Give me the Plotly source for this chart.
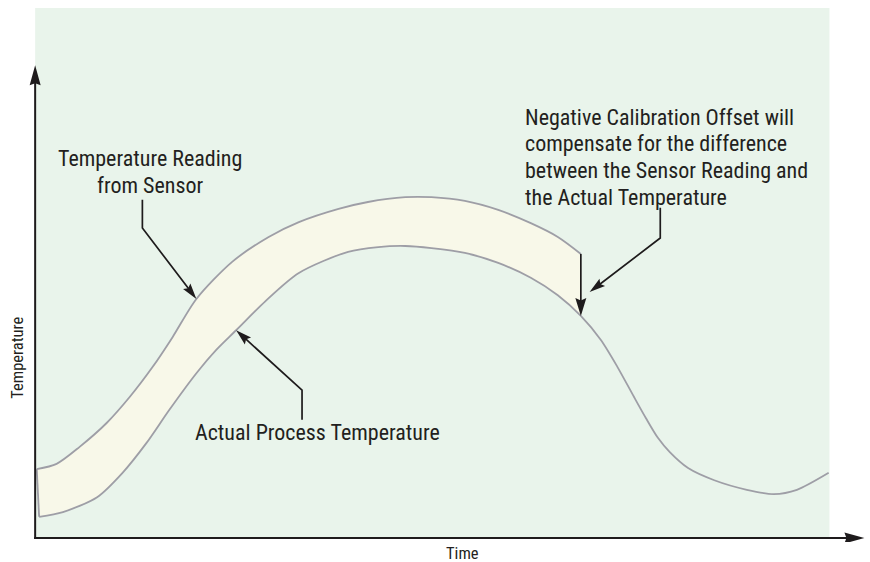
import math
import numpy as np
import plotly.graph_objects as go

# Temperature reported by the sensor (upper edge of the offset band)
sensor_time = [0.2, 2.7, 5.6, 9.0, 11.9, 14.8, 17.3, 20.3, 24.8, 29.4, 33.2, 38.2,
               41.9, 46.6, 49.9, 54.1, 58.3, 62.4, 65.8, 68.7]
sensor_temp = [13.0, 14.0, 17.2, 21.7, 26.6, 32.3, 37.9, 45.1, 52.1, 56.8, 59.6, 62.1,
               63.4, 64.3, 64.3, 63.6, 61.9, 59.4, 56.8, 53.6]

# Actual process temperature
actual_time = [0.5, 3.5, 7.8, 11.0, 14.0, 16.9, 20.3, 22.8, 25.3, 29.0, 33.2, 39.4,
               43.2, 46.6, 49.9, 54.1, 58.3, 62.4, 65.8, 68.7, 71.2, 73.3, 75.4, 76.9,
               78.4, 79.9, 82.2, 85.5, 89.6, 93.0, 95.9, 99.9]
actual_temp = [4.0, 4.9, 7.7, 12.3, 17.9, 24.2, 31.1, 35.5, 39.2, 44.7, 50.0, 54.0,
               54.9, 55.1, 54.7, 53.8, 51.9, 49.1, 45.8, 41.9, 37.4, 32.3, 26.6, 22.6,
               18.9, 16.2, 13.2, 10.9, 9.1, 8.3, 9.1, 12.3]

# Callout texts
sensor_label = ["Temperature Reading", "from Sensor"]
actual_label = "Actual Process Temperature"
offset_label = ["Negative Calibration Offset will",
                "compensate for the difference",
                "between the Sensor Reading and",
                "the Actual Temperature"]

BG_GREEN = "#e9f4eb"
BAND = "#f8f8e9"
CURVE = "#9e9ea6"
INK = "#1e1b1c"
TEXT = "#231f20"
FONT = "Liberation Sans Narrow, Roboto Condensed, DejaVu Sans Condensed, Roboto, sans-serif"

# Figure geometry (used to size arrowheads in screen pixels)
W_FIG, H_FIG = 870, 562
M_L, M_R, M_T, M_B = 28, 4, 8, 20
X_RANGE = [-0.9, 104.6]
Y_RANGE = [-0.75, 100]
SX = (W_FIG - M_L - M_R) / (X_RANGE[1] - X_RANGE[0])
SY = (H_FIG - M_T - M_B) / (Y_RANGE[1] - Y_RANGE[0])

sensor_time = np.array(sensor_time)
sensor_temp = np.array(sensor_temp)
actual_time = np.array(actual_time)
actual_temp = np.array(actual_temp)

# Part of the actual curve that lies under the sensor reading
end_t = sensor_time[-1]
mask = actual_time <= end_t
band_lo_t = actual_time[mask]
band_lo_y = actual_temp[mask]


def on_sensor(t):
    return float(np.interp(t, sensor_time, sensor_temp))


def on_actual(t):
    return float(np.interp(t, actual_time, actual_temp))


fig = go.Figure()
shapes = [dict(type="rect", xref="x", yref="y", x0=0, x1=100, y0=0, y1=100,
               fillcolor=BG_GREEN, line=dict(width=0), layer="below")]

# Band between the two curves
fig.add_trace(go.Scatter(x=band_lo_t, y=band_lo_y, mode="lines",
                         line=dict(width=0, shape="spline", smoothing=0.8),
                         hoverinfo="skip", showlegend=False))
fig.add_trace(go.Scatter(x=sensor_time, y=sensor_temp, mode="lines",
                         fill="tonexty", fillcolor=BAND,
                         line=dict(color=CURVE, width=1.8, shape="spline", smoothing=0.8),
                         name="Sensor Reading", showlegend=False))
# Closing edge of the band at the start
fig.add_trace(go.Scatter(x=[sensor_time[0], actual_time[0]], y=[sensor_temp[0], actual_temp[0]],
                         mode="lines", line=dict(color=CURVE, width=1.8),
                         hoverinfo="skip", showlegend=False))
# Actual process temperature
fig.add_trace(go.Scatter(x=actual_time, y=actual_temp, mode="lines",
                         line=dict(color=CURVE, width=1.8, shape="spline", smoothing=0.8),
                         name="Actual Temperature", showlegend=False))


def arrow_path(xs, ys, width=1.7, length=16, half=4.6, notch=2.5):
    """Polyline ending in a filled, slightly barbed arrowhead."""
    tx, ty = xs[-1], ys[-1]
    fx, fy = xs[-2], ys[-2]
    dx, dy = (tx - fx) * SX, (ty - fy) * SY
    n = math.hypot(dx, dy)
    ux, uy = dx / n, dy / n
    px, py = tx * SX, ty * SY
    bx, by = px - ux * length, py - uy * length
    lx, ly = (bx - uy * half) / SX, (by + ux * half) / SY
    rx, ry = (bx + uy * half) / SX, (by - ux * half) / SY
    nx, ny = (px - ux * (length - notch)) / SX, (py - uy * (length - notch)) / SY
    shapes.append(dict(type="path", xref="x", yref="y", layer="above",
                       path=f"M {tx},{ty} L {lx},{ly} L {nx},{ny} L {rx},{ry} Z",
                       fillcolor=INK, line=dict(width=0)))
    # stop the stem inside the head so it does not poke through the tip
    ex, ey = (px - ux * length * 0.6) / SX, (py - uy * length * 0.6) / SY
    fig.add_trace(go.Scatter(x=list(xs[:-1]) + [ex], y=list(ys[:-1]) + [ey], mode="lines",
                             line=dict(color=INK, width=width),
                             hoverinfo="skip", showlegend=False))


# Axes drawn as arrows
arrow_path([0, 0], [-1 / SY, 89.2], width=2, length=20, half=5.5, notch=2)
arrow_path([-1 / SX, 104.4], [0, 0], width=2, length=20, half=5.5, notch=2)

# Leader to the sensor curve
t_s = 20.3
arrow_path([13.5, 13.5, t_s], [63.8, 58.5, on_sensor(t_s)])
# Leader to the actual curve
t_a = 25.3
arrow_path([33.6, 33.6, t_a], [22.3, 27.9, on_actual(t_a)])
# Leader for the offset note
arrow_path([78.7, 78.7, 69.8], [62.3, 56.6, 46.4])
# Offset arrow from the sensor reading down to the actual temperature
arrow_path([end_t, end_t], [sensor_temp[-1], on_actual(end_t)], length=18, half=5.5)

annotations = []
for i, line in enumerate(sensor_label):
    annotations.append(dict(x=14.5, y=71.7 - 5.1 * i, text=line, xanchor="center"))
annotations.append(dict(x=19.9, y=20.0, text=actual_label, xanchor="left"))
for i, line in enumerate(offset_label):
    annotations.append(dict(x=61.4, y=79.4 - 5.03 * i, text=line, xanchor="left"))
for a in annotations:
    a.update(xref="x", yref="y", yanchor="middle", showarrow=False,
             font=dict(family=FONT, size=22, color=TEXT))

annotations.append(dict(x=0.5185, y=-0.021, xref="paper", yref="paper", text="Time",
                        showarrow=False, xanchor="center", yanchor="middle",
                        font=dict(family=FONT, size=16.5, color=TEXT)))
annotations.append(dict(x=-0.012, y=0.345, xref="paper", yref="paper", text="Temperature",
                        showarrow=False, textangle=-90, xanchor="center", yanchor="middle",
                        font=dict(family=FONT, size=16.5, color=TEXT)))

fig.update_layout(
    width=W_FIG, height=H_FIG,
    margin=dict(l=M_L, r=M_R, t=M_T, b=M_B),
    paper_bgcolor="white", plot_bgcolor="white",
    xaxis=dict(range=X_RANGE, visible=False, fixedrange=True),
    yaxis=dict(range=Y_RANGE, visible=False, fixedrange=True),
    shapes=shapes,
    annotations=annotations,
    showlegend=False,
)

fig.write_html("out.html")
